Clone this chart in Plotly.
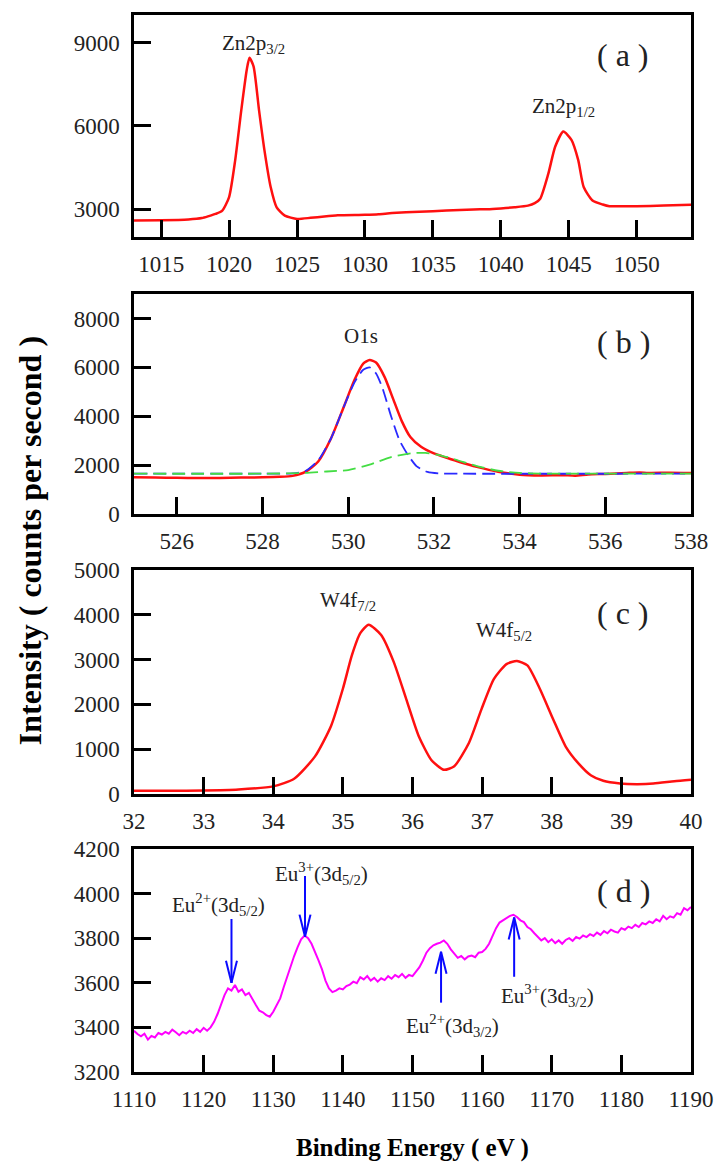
import plotly.graph_objects as go

# ---------------- data ----------------
# (a) Zn 2p
a_x = [1013, 1015, 1017, 1018, 1018.5, 1019, 1019.5, 1020, 1020.45, 1020.9, 1021.3, 1021.5,
       1021.8, 1022.2, 1022.6, 1023.06, 1023.5, 1024.1, 1025, 1026, 1027, 1028, 1030,
       1031, 1032, 1034, 1036, 1038, 1039, 1040, 1041, 1042, 1042.5, 1042.9, 1043.5, 1044.0, 1044.6,
       1045.2, 1045.7, 1046.1, 1046.75, 1047.5, 1048, 1050, 1052, 1054]
a_y = [2590, 2600, 2630, 2680, 2750, 2830, 2950, 3440, 4770, 6580, 8030, 8456,
       8150, 6580, 5130, 3800, 3070, 2770, 2650, 2690, 2740, 2780, 2800,
       2820, 2860, 2910, 2950, 2990, 3000, 3030, 3070, 3130, 3220, 3380, 4285, 5250, 5800,
       5500, 4770, 3800, 3315, 3170, 3110, 3110, 3130, 3160]

# (b) O 1s
b_x = [525.0, 525.5, 526.0, 526.5, 527.0, 527.5, 528.0, 528.4, 528.7, 529.0, 529.3, 529.6, 529.9,
       530.15, 530.35, 530.5, 530.65, 530.85, 531.05, 531.25, 531.45, 531.7, 532.0, 532.3, 532.6,
       533.0, 533.5, 534.0, 534.5, 535.0, 535.3, 535.6, 536.0, 536.5, 536.8, 537.0, 537.5, 538.0]
b_y = [1500, 1490, 1480, 1470, 1475, 1490, 1500, 1520, 1560, 1720, 2150, 3100, 4400,
       5500, 6150, 6300, 6200, 5600, 4700, 3800, 3150, 2750, 2480, 2300, 2130,
       1930, 1730, 1610, 1580, 1590, 1570, 1620, 1640, 1680, 1700, 1680, 1690, 1680]
b_fit1_x = [525.0, 528.0, 528.7, 529.0, 529.3, 529.6, 529.9, 530.15, 530.35, 530.5, 530.65, 530.8,
            531.0, 531.2, 531.4, 531.6, 531.85, 532.1, 532.6, 538.0]
b_fit1_y = [1650, 1650, 1660, 1760, 2200, 3100, 4400, 5400, 5900, 6000, 5750, 5150,
            4000, 3000, 2400, 1950, 1720, 1660, 1650, 1650]
b_fit2_x = [525.0, 528.0, 529.0, 529.5, 530.0, 530.5, 531.0, 531.5, 531.8, 532.1, 532.5, 533.0,
            533.5, 534.0, 534.5, 535.0, 538.0]
b_fit2_y = [1650, 1650, 1680, 1740, 1800, 2020, 2330, 2490, 2500, 2420, 2230, 1960,
            1770, 1680, 1655, 1650, 1650]

# (c) W 4f
c_x = [32.0, 32.5, 33.0, 33.5, 34.0, 34.3, 34.6, 34.83, 35.0, 35.13, 35.25, 35.37, 35.55, 35.73,
       35.91, 36.09, 36.27, 36.45, 36.6, 36.81, 36.99, 37.17, 37.35, 37.5, 37.65, 37.83, 38.02,
       38.2, 38.38, 38.56, 38.74, 38.98, 39.22, 39.46, 39.76, 40.0]
c_y = [70, 72, 78, 100, 170, 340, 840, 1520, 2350, 3100, 3590, 3780, 3550, 2950,
       2120, 1290, 760, 540, 620, 1140, 1890, 2570, 2900, 2970, 2870, 2345, 1670,
       1060, 690, 420, 295, 235, 220, 232, 285, 320]

# (d) Eu 3d  (scan 1110 -> 1190 eV, 0.5 eV step)
d_start, d_step = 1110.0, 0.5
d_y = [3385, 3370, 3360, 3372, 3345, 3362, 3355, 3375, 3368, 3380,
       3372, 3390, 3378, 3365, 3380, 3372, 3385, 3375, 3392, 3380,
       3398, 3385, 3400, 3425, 3460, 3500, 3545, 3575, 3565, 3590,
       3560, 3570, 3545, 3555, 3525, 3500, 3475, 3468, 3455, 3448,
       3470, 3500, 3530, 3580, 3630, 3680, 3720, 3760, 3795, 3812,
       3800, 3775, 3740, 3700, 3660, 3610, 3575, 3558, 3565, 3575,
       3570, 3585, 3592, 3605, 3598, 3625, 3615, 3630, 3610, 3622,
       3605, 3620, 3612, 3630, 3618, 3635, 3625, 3640, 3622, 3635,
       3630, 3648, 3670, 3700, 3735, 3755, 3768, 3775, 3780, 3790,
       3775, 3750, 3730, 3712, 3720, 3705, 3718, 3722, 3715, 3735,
       3738, 3752, 3775, 3810, 3845, 3870, 3880, 3892, 3900, 3905,
       3895, 3880, 3872, 3850, 3840, 3822, 3805, 3790, 3800, 3782,
       3795, 3778, 3790, 3775, 3792, 3800, 3788, 3805, 3798, 3812,
       3805, 3818, 3810, 3825, 3815, 3832, 3822, 3838, 3830, 3825,
       3845, 3838, 3852, 3845, 3860, 3850, 3868, 3862, 3875, 3868,
       3885, 3875, 3900, 3885, 3898, 3892, 3912, 3905, 3935, 3925,
       3940]
d_x = [d_start + d_step * i for i in range(len(d_y))]

# Arrows in (d): (x, tail_y, tip_y)
d_arrows = [(1124.0, 3886, 3600), (1134.56, 4079, 3807), (1154.1, 3511, 3739), (1164.6, 3627, 3893)]
d_labels = [(1122.1, 3950, "Eu<sup>2+</sup>(3d<sub>5/2</sub>)"),
            (1137.0, 4092, "Eu<sup>3+</sup>(3d<sub>5/2</sub>)"),
            (1155.8, 3410, "Eu<sup>2+</sup>(3d<sub>3/2</sub>)"),
            (1169.4, 3545, "Eu<sup>3+</sup>(3d<sub>3/2</sub>)")]

# ---------------- figure ----------------
FONT = "Liberation Serif, Times New Roman, serif"
fig = go.Figure()

spl = dict(shape="spline", smoothing=0.6)
fig.add_trace(go.Scatter(x=a_x, y=a_y, mode="lines", line=dict(color="#ff1010", width=2.5, **spl),
                         xaxis="x", yaxis="y", showlegend=False))
fig.add_trace(go.Scatter(x=b_x, y=b_y, mode="lines", line=dict(color="#ff1010", width=2.5, **spl),
                         xaxis="x2", yaxis="y2", showlegend=False))
fig.add_trace(go.Scatter(x=b_fit1_x, y=b_fit1_y, mode="lines",
                         line=dict(color="#2a2aff", width=1.8, dash="13px,6px", **spl),
                         xaxis="x2", yaxis="y2", showlegend=False))
fig.add_trace(go.Scatter(x=b_fit2_x, y=b_fit2_y, mode="lines",
                         line=dict(color="#44dd44", width=1.8, dash="13px,6px", **spl),
                         xaxis="x2", yaxis="y2", showlegend=False))
fig.add_trace(go.Scatter(x=c_x, y=c_y, mode="lines", line=dict(color="#ff1010", width=2.5, **spl),
                         xaxis="x3", yaxis="y3", showlegend=False))
fig.add_trace(go.Scatter(x=d_x, y=d_y, mode="lines", line=dict(color="#ff00ff", width=2),
                         xaxis="x4", yaxis="y4", showlegend=False))

tickfont = dict(family=FONT, size=23, color="#222")


def xax(rng, dtick, tick0, anchor):
    return dict(range=rng, dtick=dtick, tick0=tick0, anchor=anchor, showline=True, linecolor="black",
                linewidth=2.5, mirror=True, ticks="inside", ticklen=17, tickwidth=2.5, tickcolor="black",
                showgrid=False, zeroline=False, tickfont=tickfont, ticklabelstandoff=5,
                tickformat="d", automargin=False)


def yax(rng, dtick, tick0, dom, anchor):
    return dict(range=rng, dtick=dtick, tick0=tick0, domain=dom, anchor=anchor, showline=True,
                linecolor="black", linewidth=2.5, mirror=True, ticks="inside", ticklen=17, tickwidth=2.5,
                tickcolor="black", showgrid=False, zeroline=False, tickfont=tickfont, ticklabelstandoff=7,
                tickformat="d", automargin=False)


fig.update_layout(
    width=715, height=1162,
    margin=dict(l=134, r=24, t=15, b=90, autoexpand=False),
    paper_bgcolor="white", plot_bgcolor="white",
    xaxis=xax([1013, 1054], 5, 1015, "y"),
    yaxis=yax([2000, 10000], 3000, 3000, [0.790, 1.0], "x"),
    xaxis2=xax([525, 538], 2, 526, "y2"),
    yaxis2=yax([0, 9000], 2000, 0, [0.5279, 0.7360], "x2"),
    xaxis3=xax([32, 40], 1, 32, "y3"),
    yaxis3=yax([0, 5000], 1000, 0, [0.2630, 0.4749], "x3"),
    xaxis4=xax([1110, 1190], 10, 1110, "y4"),
    yaxis4=yax([3200, 4200], 200, 3200, [0.0, 0.2110], "x4"),
    showlegend=False,
)

anns = []
txt = dict(family=FONT, size=21, color="#222")
C = dict(showarrow=False, xanchor="center", yanchor="middle")
# peak labels
anns.append(dict(x=1021.8, y=8950, xref="x", yref="y", text="Zn2p<sub>3/2</sub>", font=txt, **C))
anns.append(dict(x=1044.6, y=6700, xref="x", yref="y", text="Zn2p<sub>1/2</sub>", font=txt, **C))
anns.append(dict(x=530.3, y=7281, xref="x2", yref="y2", text="O1s", font=txt, **C))
anns.append(dict(x=35.07, y=4300, xref="x3", yref="y3", text="W4f<sub>7/2</sub>", font=txt, **C))
anns.append(dict(x=37.32, y=3650, xref="x3", yref="y3", text="W4f<sub>5/2</sub>", font=txt, **C))
for lx, ly, lt in d_labels:
    anns.append(dict(x=lx, y=ly, xref="x4", yref="y4", text=lt, font=txt, **C))

# panel tags
for i, (tag, yy) in enumerate([("( a )", 0.82), ("( b )", 0.78), ("( c )", 0.81), ("( d )", 0.81)]):
    sfx = "" if i == 0 else str(i + 1)
    anns.append(dict(x=0.878, y=yy, xref="x%s domain" % sfx, yref="y%s domain" % sfx, text=tag,
                     font=dict(family=FONT, size=32, color="#222"), **C))

# axis titles
anns.append(dict(x=0.5, y=-0.072, xref="paper", yref="paper", text="<b>Binding Energy ( eV )</b>",
                 font=dict(family=FONT, size=25, color="black"), **C))
anns.append(dict(x=-0.187, y=0.503, xref="paper", yref="paper", text="<b>Intensity ( counts per second )</b>",
                 textangle=-90, font=dict(family=FONT, size=32, color="black"), **C))

# arrows in (d) as shapes
acol = "#0a0aff"
shapes = []
for ax_, tail, tip in d_arrows:
    shapes.append(dict(type="line", xref="x4", yref="y4", x0=ax_, x1=ax_, y0=tail, y1=tip,
                       line=dict(color=acol, width=2)))
    up = 22 if tail > tip else -22
    for dx in (-5.5, 5.5):
        shapes.append(dict(type="line", xref="x4", yref="y4", xsizemode="pixel", ysizemode="pixel",
                           xanchor=ax_, yanchor=tip, x0=0, y0=0, x1=dx, y1=up,
                           line=dict(color=acol, width=2)))

fig.update_layout(annotations=anns, shapes=shapes)
# remove the default 8px page margin so the figure fills the window from its top-left corner
fig.write_html("out.html", config={"displayModeBar": False},
               post_script="document.body.style.margin='0';")
